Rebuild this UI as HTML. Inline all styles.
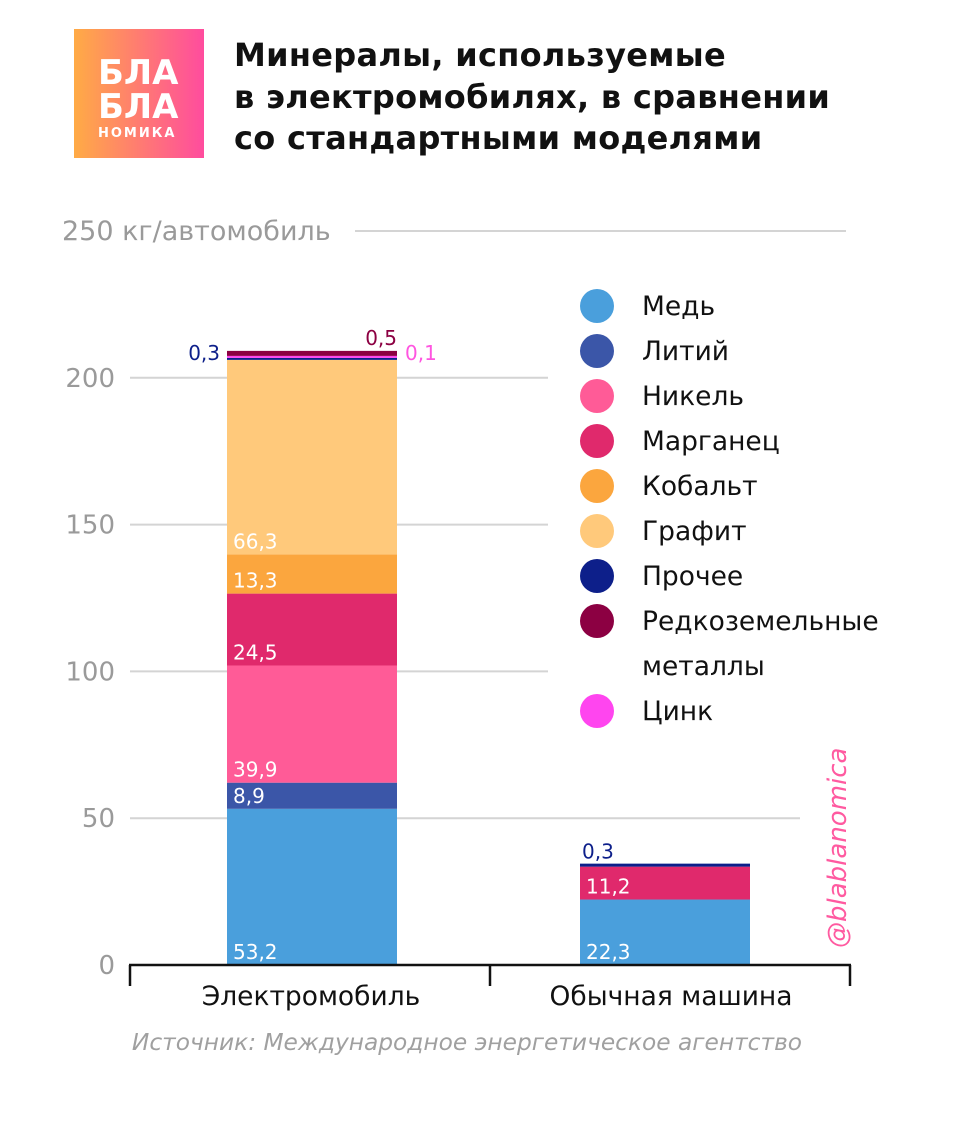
<!DOCTYPE html>
<html><head><meta charset="utf-8"><style>
body{margin:0;background:#fff;width:976px;height:1118px;overflow:hidden;font-family:"Liberation Sans","DejaVu Sans",sans-serif;}
</style></head><body>
<svg width="976" height="1118" xmlns="http://www.w3.org/2000/svg" id="chart">
<defs><linearGradient id="lg" x1="0" x2="1" y1="0" y2="0"><stop offset="0" stop-color="#ffab45"/><stop offset="1" stop-color="#ff4c9e"/></linearGradient></defs>
<g>
<rect x="74" y="29" width="130" height="129" fill="url(#lg)"/>
<text x="98" y="84" font-size="34" font-weight="bold" fill="#fff" font-family="DejaVu Sans,sans-serif">БЛА</text>
<text x="98" y="118" font-size="34" font-weight="bold" fill="#fff" font-family="DejaVu Sans,sans-serif">БЛА</text>
<text x="98" y="137" font-size="13" font-weight="bold" fill="#fff" letter-spacing="2" font-family="DejaVu Sans,sans-serif">НОМИКА</text>
</g>
<g font-size="32" font-weight="bold" fill="#111" font-family="DejaVu Sans,sans-serif" letter-spacing="0.3">
<text x="234" y="66">Минералы, используемые</text>
<text x="234" y="108">в  электромобилях, в сравнении</text>
<text x="234" y="149">со стандартными моделями</text>
</g>
<g id="grid"></g>
<g id="bars"></g>
<g id="legend"></g>
<g stroke="#111" stroke-width="2.5">
<line x1="129" y1="965" x2="851" y2="965"/>
<line x1="130" y1="965" x2="130" y2="986"/>
<line x1="490" y1="965" x2="490" y2="986"/>
<line x1="850" y1="965" x2="850" y2="986"/>
</g>
<text x="311" y="1005" font-size="26.5" text-anchor="middle" fill="#111" font-family="DejaVu Sans,sans-serif">Электромобиль</text>
<text x="671" y="1005" font-size="26.5" text-anchor="middle" fill="#111" font-family="DejaVu Sans,sans-serif">Обычная машина</text>
<text x="467" y="1050" font-size="23.3" font-style="italic" text-anchor="middle" fill="#a0a0a0" font-family="DejaVu Sans,sans-serif">Источник: Международное энергетическое агентство</text>
<text transform="translate(846,948) rotate(-90)" font-size="26" font-style="italic" fill="#ff5aa0" font-family="DejaVu Sans,sans-serif">@blablanomica</text>
</svg>
<script>
const categories=["Электромобиль","Обычная машина"];
const minerals=["Медь","Литий","Никель","Марганец","Кобальт","Графит","Прочее","Цинк","Редкоземельные"];
const colors=["#4a9fdc","#3b56a8","#ff5b97","#e0296c","#fba63e","#ffc97b","#0d1f8a","#ff45ef","#8c0042"];
const evValues=[53.2,8.9,39.9,24.5,13.3,66.3,0.3,0.1,0.5];
const regValues=[22.3,0,0,11.2,0,0,0.3,0,0];
const ticks=[0,50,100,150,200,250];
const legendLabels=["Медь","Литий","Никель","Марганец","Кобальт","Графит","Прочее","Редкоземельные","Цинк"];
const legendColors=["#4a9fdc","#3b56a8","#ff5b97","#e0296c","#fba63e","#ffc97b","#0d1f8a","#8c0042","#ff45ef"];
const NS="http://www.w3.org/2000/svg";
const y=v=>965-v*(734/250);
const barX=[227,580],barW=170;
function mk(t,a,p){const e=document.createElementNS(NS,t);for(const k in a)e.setAttribute(k,a[k]);p.appendChild(e);return e;}
const grid=document.getElementById('grid');
const gridX2=[0,800,548,548,548,846];
ticks.forEach((t,i)=>{
  const lab=mk('text',{x:i==5?62:115,y:y(t)+9,'font-size':i==5?27:26,fill:'#9a9a9a','text-anchor':i==5?'start':'end','font-family':'DejaVu Sans,sans-serif'},grid);
  lab.textContent=i==5?"250 кг/автомобиль":t;
  
  
  if(i>0){const l=mk('line',{x1:i==5?355:130,x2:gridX2[i],y1:y(t),y2:y(t),stroke:'#d4d4d4','stroke-width':2},grid);
  
  }
});
const bars=document.getElementById('bars');
const minH=[0,0,0,0,0,0,2,2,5];
[evValues,regValues].forEach((vals,ci)=>{
  let base=0,py=965;
  vals.forEach((v,i)=>{
    if(v<=0)return;
    base+=v;
    let top=y(base);
    let h=py-top; if(h<minH[i]&&ci==0)h=minH[i]; if(ci==1&&i==6)h=3;
    top=py-h;
    const r=mk('rect',{x:barX[ci],y:top,width:barW,height:h,fill:colors[i]},bars);
    
    
    const s=String(v).replace('.',',');
    let lab;
    if(i<6){lab=mk('text',{x:barX[ci]+6,y:py-6,'font-size':20,fill:'#fff','font-family':'DejaVu Sans,sans-serif'},bars);}
    else if(ci==1){lab=mk('text',{x:barX[ci]+2,y:top-5,'font-size':20,fill:'#0d1f8a','font-family':'DejaVu Sans,sans-serif'},bars);}
    else if(i==6){lab=mk('text',{x:barX[ci]-7,y:top+2,'font-size':20,fill:'#0d1f8a','text-anchor':'end','font-family':'DejaVu Sans,sans-serif'},bars);}
    else if(i==7){lab=mk('text',{x:barX[ci]+barW+8,y:top+4,'font-size':20,fill:'#ff55e0','font-family':'DejaVu Sans,sans-serif'},bars);}
    else {lab=mk('text',{x:barX[ci]+barW,y:top-6,'font-size':20,fill:'#8c0042','text-anchor':'end','font-family':'DejaVu Sans,sans-serif'},bars);}
    lab.textContent=s;
    
    
    py=top;
  });
});
const lg=document.getElementById('legend');
legendLabels.forEach((l,i)=>{
  const row=i>7?i+1:i;
  const cy=306+45*row;
  const c=mk('circle',{cx:597,cy:cy,r:17,fill:legendColors[i]},lg);
  
  
  const t=mk('text',{x:642,y:cy+9,'font-size':26.5,fill:'#111','font-family':'DejaVu Sans,sans-serif'},lg);
  t.textContent=l;
  
  
  if(i==7){const t2=mk('text',{x:642,y:cy+54,'font-size':26.5,fill:'#111','font-family':'DejaVu Sans,sans-serif'},lg);
  t2.textContent="металлы";
  
  }
});
</script>
</body></html>
